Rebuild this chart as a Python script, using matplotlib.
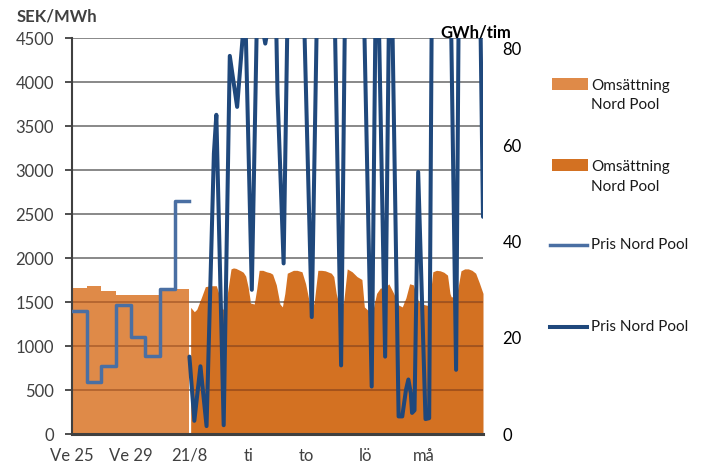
import matplotlib
matplotlib.use("Agg")
import matplotlib.pyplot as plt
import numpy as np
from matplotlib.lines import Line2D
from matplotlib.patches import Rectangle

plt.rcParams["font.family"] = ["Lato", "DejaVu Sans"]

# Weekly data, v. 25-32 (before 21/8)
week_numbers = [25, 26, 27, 28, 29, 30, 31, 32]
week_turnover_gwh = [30.3, 30.7, 29.8, 28.9, 28.9, 28.9, 30.2, 30.2]
week_price_sek = [1400, 590, 770, 1470, 1100, 890, 1650, 2650]

# Hourly data from 21/8 (hours since 21/8 00:00)
turn_hours = [1, 4, 6, 10, 13, 17, 22, 24, 26, 28, 31, 34, 36, 38, 42, 44, 46, 48, 50,
              53, 55, 57, 60, 63, 66, 68, 71, 74, 76, 78, 80, 85, 88, 92, 95, 98, 100,
              102, 105, 108, 111, 116, 118, 120, 122, 126, 129, 133, 137, 141, 143,
              146, 150, 153, 156, 160, 163, 167, 171, 174, 177, 180, 183, 187, 190,
              195, 197, 199, 202, 205, 208, 211, 213, 214, 218, 220, 222, 225, 228,
              231, 234, 237, 240]
turn_gwh = [26.3, 25.4, 25.9, 28.5, 30.6, 30.8, 30.8, 29.2, 26.1, 25.9, 29.2, 34.3,
            34.5, 34.4, 33.9, 33.6, 32.8, 30.5, 27.2, 27.0, 30.1, 34.0, 34.0, 33.7,
            33.5, 33.2, 31.0, 27.0, 26.4, 29.2, 33.4, 34.0, 34.0, 33.7, 31.2, 27.4,
            25.5, 27.4, 34.0, 34.0, 33.9, 33.4, 32.7, 29.2, 27.2, 27.2, 34.3, 33.7,
            32.7, 32.1, 26.4, 25.7, 25.7, 29.2, 30.3, 30.5, 31.2, 29.2, 26.8, 26.4,
            28.3, 31.2, 31.0, 27.7, 27.0, 26.7, 29.2, 33.7, 34.0, 33.9, 33.6, 33.0,
            29.2, 28.5, 28.5, 31.0, 33.9, 34.3, 34.3, 34.0, 33.4, 31.4, 29.2]

price_hours = [0, 4, 9, 14, 20, 22, 28, 33, 39, 44, 45, 46, 51, 55, 58, 60, 62, 64,
               67, 71, 72, 77, 80, 87, 94, 100, 104, 111, 119, 124, 127, 135, 143,
               149, 152, 154, 155, 160, 163, 164, 166, 171, 174, 177, 179, 181, 182,
               184, 187, 193, 196, 198, 206, 214, 218, 220, 229, 238, 240]
price_sek = [880, 150, 770, 90, 3190, 3630, 100, 4300, 3720, 4600, 5200, 4600, 1640,
             4600, 6000, 4600, 4440, 4600, 6000, 4600, 3875, 1940, 4600, 6000, 4600,
             1330, 4600, 6000, 4600, 780, 4600, 6000, 4600, 540, 4600, 5200, 4600,
             880, 4600, 5000, 4600, 200, 200, 500, 620, 460, 240, 270, 2980, 170,
             180, 4600, 6000, 4600, 730, 4600, 6000, 4600, 2470]

tick_pos = [-96, -48, 0, 48, 96, 144, 192]
tick_labels = ["Ve 25", "Ve 29", "21/8", "ti", "to", "lö", "må"]

light_orange = "#DF8A48"
dark_orange = "#D37122"
light_blue = "#4A6FA3"
dark_blue = "#1F487C"
grid_gray = "#7f7f7f"

SEK_MAX, GWH_MAX = 4500, 82.2

W, H = 707, 469
fig = plt.figure(figsize=(W / 100, H / 100), dpi=100)
ax = fig.add_axes([72 / W, 1 - 434 / H, (483 - 72) / W, (434 - 38.3) / H])
ax2 = ax.twinx()
# price axis (left) on top of the turnover axis (right)
ax.set_zorder(ax2.get_zorder() + 1)
ax.patch.set_visible(False)
ax2.set_ylim(0, GWH_MAX)
ax.set_ylim(0, SEK_MAX)
ax.set_xlim(-96, 240)
yticks = np.arange(0, SEK_MAX + 1, 500)

# weeks: 12 x-units each, ending at 21/8
week_edges = -96 + 12 * np.arange(len(week_numbers) + 1)

ax2.fill_between(week_edges, np.r_[week_turnover_gwh, week_turnover_gwh[-1]],
                 step="post", color=light_orange, lw=0)
ax2.fill_between(turn_hours, turn_gwh, color=dark_orange, lw=0)

# gridlines show through the areas as a darker tone: only where the area covers them
xs_w = np.linspace(week_edges[0], week_edges[-1] - 1e-6, 800)
top_w = np.array(week_turnover_gwh)[np.searchsorted(week_edges, xs_w, side="right") - 1]
xs_h = np.linspace(turn_hours[0], turn_hours[-1], 2400)
top_h = np.interp(xs_h, turn_hours, turn_gwh)
for xs, top, col in ((xs_w, top_w, "#B8672F"), (xs_h, top_h, "#A5521A")):
    top_sek = top * SEK_MAX / GWH_MAX
    for yv in yticks[1:]:
        ax.plot(xs, np.where(top_sek >= yv + 12, yv, np.nan), color=col,
                lw=1.4, zorder=1, solid_capstyle="butt")

ax.step(week_edges, np.r_[week_price_sek, week_price_sek[-1]], where="post",
        color=light_blue, lw=2.5, solid_joinstyle="round", zorder=3)
ax.plot(price_hours, price_sek, color=dark_blue, lw=2.9, solid_joinstyle="round",
        solid_capstyle="round", zorder=4)

ax.set_axisbelow(True)
ax.grid(axis="y", color=grid_gray, lw=1.3)
ax.set_yticks(yticks)
ax.set_xticks(tick_pos, tick_labels)
ax.tick_params(axis="y", length=5, width=1.3, color="#404040", pad=8,
               labelsize=12, labelcolor="#404040")
ax.tick_params(axis="x", length=0, pad=10, labelsize=12, labelcolor="#404040")
ax2.set_yticks([0, 20, 40, 60, 80])
ax2.tick_params(axis="y", length=0, pad=14, labelsize=12, labelcolor="#000000")

for a in (ax, ax2):
    a.spines["top"].set_visible(False)
    a.spines["right"].set_visible(False)
ax2.spines["left"].set_visible(False)
ax2.spines["bottom"].set_visible(False)
ax.spines["left"].set_color("#404040")
ax.spines["left"].set_linewidth(1.5)
ax.spines["bottom"].set_color("#404040")
ax.spines["bottom"].set_linewidth(2.2)

fig.text(17 / W, 1 - 16 / H, "SEK/MWh", fontsize=12, fontweight="bold",
         color="#404040", va="center", ha="left")
fig.text(440 / W, 1 - 33 / H, "GWh/tim", fontsize=12, fontweight="bold",
         color="#000000", va="center", ha="left")


# legend, drawn by hand to match the spaced layout
def fy(py):
    return 1 - py / H


fig.add_artist(Rectangle((552 / W, fy(90)), 36 / W, 12 / H, transform=fig.transFigure,
                         facecolor=light_orange, lw=0))
fig.add_artist(Rectangle((552 / W, fy(171)), 36 / W, 12 / H, transform=fig.transFigure,
                         facecolor=dark_orange, lw=0))
fig.add_artist(Line2D([550 / W, 587 / W], [fy(245), fy(245)], transform=fig.transFigure,
                      color=light_blue, lw=2.5))
fig.add_artist(Line2D([550 / W, 587 / W], [fy(327), fy(327)], transform=fig.transFigure,
                      color=dark_blue, lw=2.9))
for label, py in [("Omsättning\nNord Pool", 95.5), ("Omsättning\nNord Pool", 177),
                  ("Pris Nord Pool", 245), ("Pris Nord Pool", 327)]:
    fig.text(591 / W, fy(py), label, fontsize=11, color="#1a1a1a", va="center",
             ha="left", linespacing=1.5)

fig.savefig("out.png", dpi=100)
